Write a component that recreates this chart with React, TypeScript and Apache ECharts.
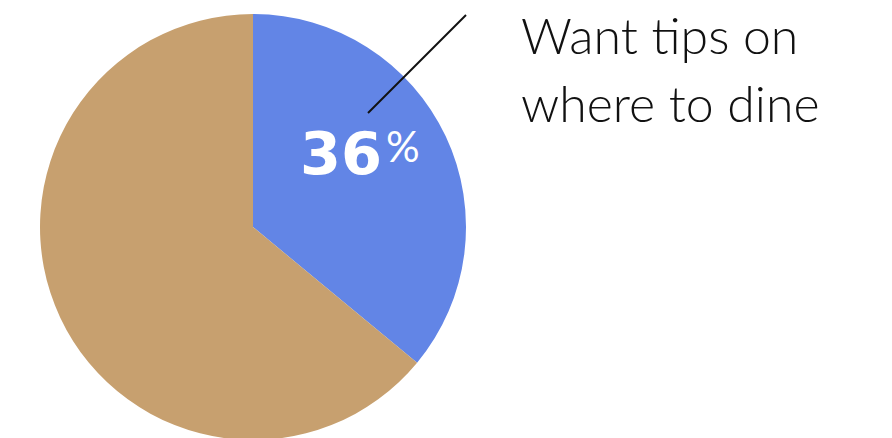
import React, { useEffect, useRef } from "react";
import * as echarts from "echarts";

const categories = ["Want tips on where to dine", "Other"];
const values = [36, 64];
const colors = ["#6285E6", "#C7A06F"];
const labelLines = ["Want tips on", "where to dine"];

export default function App() {
  const ref = useRef<HTMLDivElement>(null);
  useEffect(() => {
    document.body.style.margin = "0";
    const chart = echarts.init(ref.current!, null, { renderer: "svg" });
    chart.setOption({
      animation: false,
      series: [
        {
          type: "pie",
          center: [253, 227],
          radius: 213,
          startAngle: 90,
          clockwise: true,
          label: { show: false },
          labelLine: { show: false },
          silent: true,
          data: categories.map((c, i) => ({
            name: c,
            value: values[i],
            itemStyle: { color: colors[i] },
          })),
        },
      ],
      graphic: [
        {
          type: "line",
          shape: { x1: 368, y1: 113, x2: 466, y2: 15 },
          style: { stroke: "#111", lineWidth: 2 },
          z: 10,
        },
        {
          type: "text",
          x: 300,
          y: 124,
          z: 10,
          style: {
            text: String(values[0]),
            fontFamily: "DejaVu Sans",
            fontWeight: "bold",
            fontSize: 59,
            fill: "#fff",
            verticalAlign: "top",
          },
        },
        {
          type: "text",
          x: 386,
          y: 125,
          z: 10,
          style: {
            text: "%",
            fontFamily: "Lato",
            fontWeight: "normal",
            fontSize: 42,
            fill: "#fff",
            verticalAlign: "top",
          },
        },
        ...labelLines.map((t, i) => ({
          type: "text",
          x: 521,
          y: 10 + i * 68,
          z: 10,
          style: {
            text: t,
            fontFamily: "Lato",
            fontWeight: 300,
            fontSize: 50,
            fill: "#111",
            verticalAlign: "top",
          },
        })),
      ],
    });
    return () => chart.dispose();
  }, []);
  return <div ref={ref} style={{ position: "absolute", left: 0, top: 0, width: 892, height: 438 }} />;
}
